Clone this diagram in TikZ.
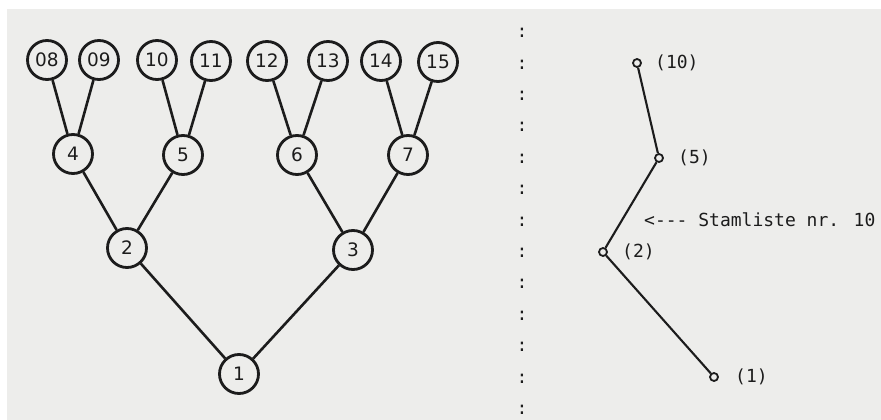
\documentclass[tikz,border=0pt]{standalone}
\usepackage{fontspec}
\setmainfont{DejaVu Sans}
\newfontfamily\monof{DejaVu Sans Mono}
\definecolor{paper}{HTML}{EDEDEB}
\definecolor{ink}{HTML}{1C1C1C}
\begin{document}
\begin{tikzpicture}[x=1pt,y=-1pt,
  tnode/.style={circle,draw=ink,line width=2.8pt,minimum size=39pt,inner sep=0pt,font=\fontsize{18.5}{18.5}\selectfont,text=ink},
  tedge/.style={draw=ink,line width=2.6pt},
  snode/.style={circle,draw=ink,line width=1.8pt,minimum size=8pt,inner sep=0pt},
  sedge/.style={draw=ink,line width=2.1pt},
  slabel/.style={anchor=west,inner sep=0pt,font=\monof\fontsize{18}{18}\selectfont,text=ink},
  colon/.style={inner sep=0pt,font=\monof\fontsize{18}{18}\selectfont,text=ink}]
\fill[white] (0,0) rectangle (881,420);
\fill[paper] (7,9) rectangle (881,420);
\useasboundingbox (0,0) rectangle (881,420);
% left tree
\node[tnode] (n08) at (47,60) {08};
\node[tnode] (n09) at (99,60) {09};
\node[tnode] (n10) at (157,60) {10};
\node[tnode] (n11) at (211,61) {11};
\node[tnode] (n12) at (267,61) {12};
\node[tnode] (n13) at (328,61) {13};
\node[tnode] (n14) at (381,61) {14};
\node[tnode] (n15) at (438,62) {15};
\node[tnode] (n4) at (73,154) {4};
\node[tnode] (n5) at (183,155) {5};
\node[tnode] (n6) at (297,155) {6};
\node[tnode] (n7) at (408,155) {7};
\node[tnode] (n2) at (127,248) {2};
\node[tnode] (n3) at (353,250) {3};
\node[tnode] (n1) at (239,374) {1};
\draw[tedge] (n08) -- (n4);
\draw[tedge] (n09) -- (n4);
\draw[tedge] (n10) -- (n5);
\draw[tedge] (n11) -- (n5);
\draw[tedge] (n12) -- (n6);
\draw[tedge] (n13) -- (n6);
\draw[tedge] (n14) -- (n7);
\draw[tedge] (n15) -- (n7);
\draw[tedge] (n4) -- (n2);
\draw[tedge] (n5) -- (n2);
\draw[tedge] (n6) -- (n3);
\draw[tedge] (n7) -- (n3);
\draw[tedge] (n2) -- (n1);
\draw[tedge] (n3) -- (n1);
% dotted separator
\foreach \i in {0,...,12} {
  \node[colon] (c\i) at (522,{33+31.4*\i}) {:};
}
% right chain
\node[snode] (r10) at (637,63) {};
\node[snode] (r5) at (659,158) {};
\node[snode] (r2) at (603,252) {};
\node[snode] (r1) at (714,377) {};
\draw[sedge] (r10) -- (r5);
\draw[sedge] (r5) -- (r2);
\draw[sedge] (r2) -- (r1);
\node[slabel] (l10) at (655,63) {(10)};
\node[slabel] (l5) at (678,158) {(5)};
\node[slabel] (l2) at (622,252) {(2)};
\node[slabel] (l1) at (735,377) {(1)};
\node[slabel] (st) at (644,220) {<-{}-{}- Stamliste nr. 10};
\end{tikzpicture}
\end{document}
